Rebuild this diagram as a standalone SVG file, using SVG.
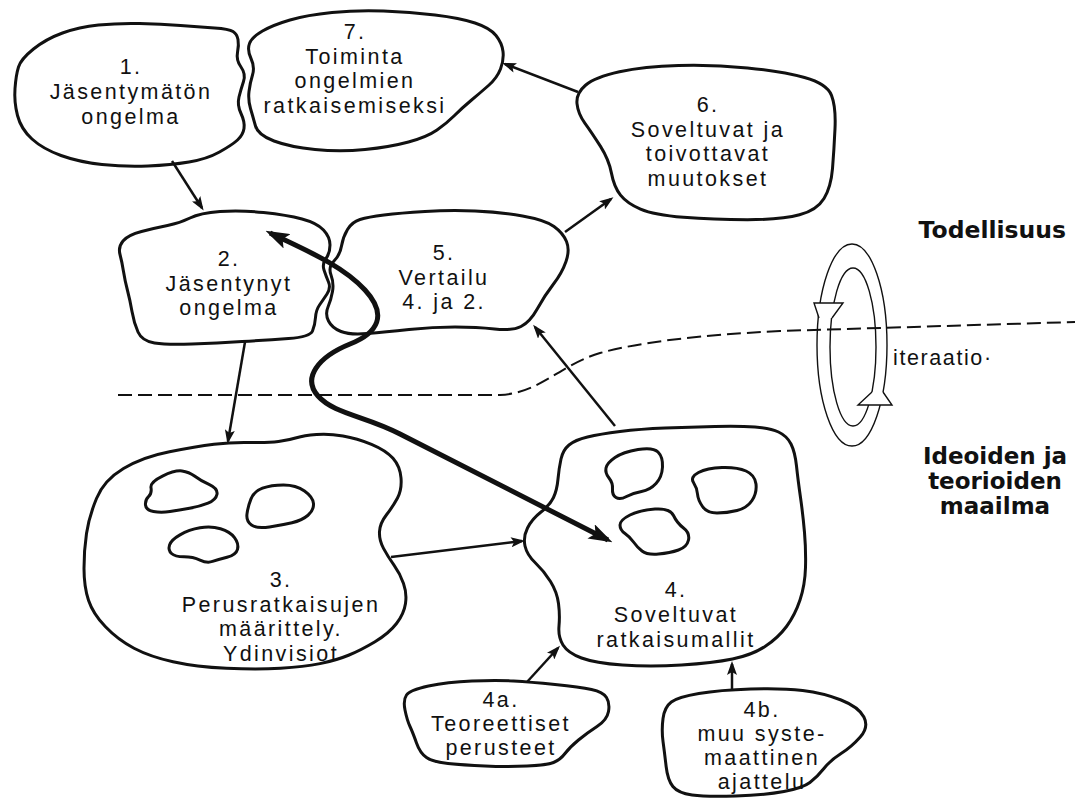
<svg xmlns="http://www.w3.org/2000/svg" width="1082" height="801" viewBox="0 0 1082 801">
<defs>
<style>
.blob{fill:none;stroke:#111;stroke-width:3;stroke-linejoin:round}
.inner{fill:none;stroke:#111;stroke-width:3;stroke-linejoin:round}
.t{font-family:'Liberation Sans',Arial,sans-serif;font-size:21.5px;letter-spacing:2.4px;text-anchor:middle;fill:#111}
.b{font-family:'DejaVu Sans','Liberation Sans',sans-serif;font-weight:bold;font-size:23px;text-anchor:middle;fill:#111}
.arr{fill:none;stroke:#111;stroke-width:2.5;marker-end:url(#ah)}
.thick{fill:none;stroke:#111;stroke-width:5;marker-start:url(#ahT);marker-end:url(#ahT)}
.ring{fill:none;stroke:#111;stroke-width:1.4}
.dash{fill:none;stroke:#111;stroke-width:2;stroke-dasharray:14 6}
</style>
<marker id="ah" markerUnits="userSpaceOnUse" markerWidth="14" markerHeight="10" refX="11" refY="5" orient="auto">
<path d="M0,0 L14,5 L0,10 L3,5 z" fill="#111"/>
</marker>
<marker id="ahT" markerUnits="userSpaceOnUse" markerWidth="24" markerHeight="16" refX="19" refY="8" orient="auto-start-reverse">
<path d="M0,0 L24,8 L0,16 L5,8 z" fill="#111"/>
</marker>
</defs>
<rect width="1082" height="801" fill="#fff"/>

<g id="divider">
<path class="dash" d="M 118,395 L 500,395 C 540,393 560,365 600,353 C 640,342 700,335 780,331 L 1075,322"/>
</g>

<g id="n1">
<path class="blob" transform="translate(0,2)" d="M 33.5,47 Q 46,37 62.5,31 Q 79,25 98.5,23 Q 118,21 139.5,21.5 Q 161,22 180.5,23.5 Q 200,25 214.5,26 Q 229,27 233,29.5 Q 237,32 238,37.5 Q 239,43 237.5,50.5 Q 236,58 241,65 Q 246,72 243.5,79.5 Q 241,87 239,95 Q 237,103 241,111.5 Q 245,120 244,126.5 Q 243,133 237.5,138 Q 232,143 219.5,150 Q 207,157 189,160 Q 171,163 148,164 Q 125,165 102,162.5 Q 79,160 61,153.5 Q 43,147 32,137 Q 21,127 17.5,113.5 Q 14,100 15,86.5 Q 16,73 18.5,65 Q 21,57 33.5,47 Z"/>
<text class="t"><tspan x="131" y="74">1.</tspan><tspan x="131" y="99">Jäsentymätön</tspan><tspan x="131" y="124">ongelma</tspan></text>
</g>

<g id="n7">
<path class="blob" d="M 249.5,43.5 Q 247,50 251,58.5 Q 255,67 252.5,75 Q 250,83 249,91.5 Q 248,100 250.5,108.5 Q 253,117 255.5,126 Q 258,135 274,141 Q 290,147 315,149.5 Q 340,152 365,149.5 Q 390,147 408.5,142 Q 427,137 437,130 Q 447,123 454.5,115.5 Q 462,108 471,100.5 Q 480,93 488.5,85.5 Q 497,78 500.5,69 Q 504,60 503,51.5 Q 502,43 496,35.5 Q 490,28 475,23 Q 460,18 435,15 Q 410,12 383.5,11 Q 357,10 332,12.5 Q 307,15 290,20 Q 273,25 262.5,31 Q 252,37 249.5,43.5 Z"/>
<text class="t"><tspan x="355" y="39">7.</tspan><tspan x="355" y="63.5">Toiminta</tspan><tspan x="355" y="88">ongelmien</tspan><tspan x="355" y="112.5">ratkaisemiseksi</tspan></text>
</g>

<g id="n6">
<path class="blob" vector-effect="non-scaling-stroke" transform="scale(1,0.9633)" d="M 585.5,88.5 Q 595,80 619.5,74.5 Q 644,69 678.5,68 Q 713,67 747.5,70.5 Q 782,74 804.5,80.5 Q 827,87 831.5,99 Q 836,111 835,133.5 Q 834,156 832.5,175 Q 831,194 824,206 Q 817,218 799.5,223 Q 782,228 747.5,228 Q 713,228 683.5,225.5 Q 654,223 640.5,217 Q 627,211 620.5,202.5 Q 614,194 611.5,180 Q 609,166 600.5,152 Q 592,138 585,128 Q 578,118 577,107.5 Q 576,97 585.5,88.5 Z"/>
<text class="t"><tspan x="708" y="112">6.</tspan><tspan x="708" y="136.5">Soveltuvat ja</tspan><tspan x="708" y="161">toivottavat</tspan><tspan x="708" y="185.5">muutokset</tspan></text>
</g>

<g id="n2">
<path class="blob" d="M 190,218 Q 200,213 220,211.5 Q 240,210 263.5,212.5 Q 287,215 302,219 Q 317,223 323.5,230 Q 330,237 330,245 Q 330,253 326,258.5 Q 322,264 324,270 Q 326,276 328.5,282 Q 331,288 327,294 Q 323,300 319.5,305 Q 316,310 315.5,317.5 Q 315,325 312.5,331 Q 310,337 288.5,338.5 Q 267,340 242,341.5 Q 217,343 192,344 Q 167,345 154.5,343 Q 142,341 138,332 Q 134,323 132,311.5 Q 130,300 127.5,290.5 Q 125,281 123.5,271.5 Q 122,262 120,254.5 Q 118,247 123,241 Q 128,235 141.5,231.5 Q 155,228 167.5,225.5 Q 180,223 190,218 Z"/>
<text class="t"><tspan x="229" y="266">2.</tspan><tspan x="229" y="290.5">Jäsentynyt</tspan><tspan x="229" y="315">ongelma</tspan></text>
</g>

<g id="n5">
<path class="blob" d="M 347.5,229.5 Q 343,237 341.5,246 Q 340,255 334,261 Q 328,267 331,275 Q 334,283 332.5,291.5 Q 331,300 328,307 Q 325,314 328.5,321 Q 332,328 341,331.5 Q 350,335 367.5,333.5 Q 385,332 409,329.5 Q 433,327 455,327 Q 477,327 494.5,329 Q 512,331 521,326.5 Q 530,322 537.5,308.5 Q 545,295 553.5,284 Q 562,273 566,261.5 Q 570,250 566.5,241.5 Q 563,233 554,226.5 Q 545,220 522.5,216 Q 500,212 475,211 Q 450,210 425,211.5 Q 400,213 384,215 Q 368,217 360,219.5 Q 352,222 347.5,229.5 Z"/>
<text class="t"><tspan x="444" y="260">5.</tspan><tspan x="444" y="284.5">Vertailu</tspan><tspan x="444" y="309">4. ja 2.</tspan></text>
</g>

<g id="n3">
<g transform="translate(0,26.67) scale(1,0.9333)">
<path class="blob" vector-effect="non-scaling-stroke" d="M 123.5,473.5 Q 143,461 169.5,455.5 Q 196,450 214,447.5 Q 232,445 250,445.5 Q 268,446 278.5,444.5 Q 289,443 296.5,440.5 Q 304,438 316.5,437 Q 329,436 343,438.5 Q 357,441 371.5,447.5 Q 386,454 393,462.5 Q 400,471 401,483.5 Q 402,496 397.5,505 Q 393,514 386.5,523 Q 380,532 379.5,541 Q 379,550 383.5,559 Q 388,568 394,577 Q 400,586 403.5,596.5 Q 407,607 405.5,618 Q 404,629 396.5,639.5 Q 389,650 375,659 Q 361,668 348.5,673.5 Q 336,679 320,682.5 Q 304,686 280.5,687.5 Q 257,689 226.5,687.5 Q 196,686 173,680.5 Q 150,675 134,666 Q 118,657 105.5,643 Q 93,629 88.5,614.5 Q 84,600 84,580.5 Q 84,561 86.5,543 Q 89,525 96.5,505.5 Q 104,486 123.5,473.5 Z"/>
<path class="inner" vector-effect="non-scaling-stroke" d="M 162.5,481.5 Q 175,475 182,476 Q 189,477 194.5,481.5 Q 200,486 209,490.5 Q 218,495 217,501 Q 216,507 208,510.5 Q 200,514 189.5,516 Q 179,518 170,519.5 Q 161,521 153.5,519.5 Q 146,518 145.5,512.5 Q 145,507 148.5,503.5 Q 152,500 151,494 Q 150,488 162.5,481.5 Z"/>
<path class="inner" vector-effect="non-scaling-stroke" d="M 262.5,494.5 Q 271,491 283.5,491 Q 296,491 304.5,497.5 Q 313,504 313.5,511 Q 314,518 308,523.5 Q 302,529 292,531.5 Q 282,534 269.5,536 Q 257,538 251.5,534 Q 246,530 247,522 Q 248,514 251,506 Q 254,498 262.5,494.5 Z"/>
<path class="inner" vector-effect="non-scaling-stroke" d="M 180,544.5 Q 189,539 200,537 Q 211,535 220.5,538 Q 230,541 234.5,547.5 Q 239,554 237.5,560 Q 236,566 227,568.5 Q 218,571 212.5,573 Q 207,575 200,571.5 Q 193,568 184,568 Q 175,568 171.5,564.5 Q 168,561 169.5,555.5 Q 171,550 180,544.5 Z"/>
</g>
<text class="t"><tspan x="281" y="587">3.</tspan><tspan x="281" y="611.5">Perusratkaisujen</tspan><tspan x="281" y="636">määrittely.</tspan><tspan x="281" y="660.5">Ydinvisiot</tspan></text>
</g>

<g id="n4">
<path class="blob" d="M 569,445 Q 575,440 587.5,437 Q 600,434 620,431.5 Q 640,429 665,428 Q 690,427 715,426.5 Q 740,426 755,427 Q 770,428 778.5,432 Q 787,436 791,444 Q 795,452 796.5,466 Q 798,480 800.5,497.5 Q 803,515 804.5,532.5 Q 806,550 805.5,567.5 Q 805,585 800,600 Q 795,615 786.5,626.5 Q 778,638 765,646.5 Q 752,655 732.5,659 Q 713,663 681.5,665 Q 650,667 622.5,665 Q 595,663 581.5,658 Q 568,653 563,645 Q 558,637 559,626 Q 560,615 558.5,603.5 Q 557,592 550.5,581.5 Q 544,571 535.5,563 Q 527,555 525,546 Q 523,537 527.5,528 Q 532,519 541,512 Q 550,505 553.5,497.5 Q 557,490 558,479 Q 559,468 561,459 Q 563,450 569,445 Z"/>
<path class="inner" d="M 615,457.5 Q 623,452 638,449.5 Q 653,447 658,452 Q 663,457 662.5,467 Q 662,477 656,483.5 Q 650,490 641.5,491.5 Q 633,493 626.5,496.5 Q 620,500 616,497.5 Q 612,495 612.5,489 Q 613,483 609,478 Q 605,473 606,468 Q 607,463 615,457.5 Z"/>
<path class="inner" d="M 698.5,472.5 Q 707,468 722,467.5 Q 737,467 746,471 Q 755,475 756,484 Q 757,493 752,500.5 Q 747,508 737,510.5 Q 727,513 717,513 Q 707,513 702.5,506.5 Q 698,500 697.5,494 Q 697,488 693.5,482.5 Q 690,477 698.5,472.5 Z"/>
<path class="inner" d="M 630,515 Q 640,510 655,509 Q 670,508 673.5,515.5 Q 677,523 683.5,528 Q 690,533 688.5,540 Q 687,547 678.5,550 Q 670,553 658.5,554 Q 647,555 642,551 Q 637,547 633.5,542 Q 630,537 625,533.5 Q 620,530 620,525 Q 620,520 630,515 Z"/>
<text class="t"><tspan x="676" y="597">4.</tspan><tspan x="676" y="622">Soveltuvat</tspan><tspan x="676" y="647">ratkaisumallit</tspan></text>
</g>

<g id="n4a">
<path class="blob" d="M 406.5,695 Q 410,690 428.5,686 Q 447,682 472,681 Q 497,680 513.5,681 Q 530,682 555,684.5 Q 580,687 591.5,689.5 Q 603,692 606.5,697.5 Q 610,703 608.5,711.5 Q 607,720 597,726.5 Q 587,733 578.5,740 Q 570,747 565,753.5 Q 560,760 553.5,762.5 Q 547,765 527,766 Q 507,767 485,766 Q 463,765 448,763.5 Q 433,762 426.5,757.5 Q 420,753 416.5,743 Q 413,733 410,726.5 Q 407,720 405,710 Q 403,700 406.5,695 Z"/>
<text class="t"><tspan x="501" y="707">4a.</tspan><tspan x="501" y="731">Teoreettiset</tspan><tspan x="501" y="755">perusteet</tspan></text>
</g>

<g id="n4b">
<path class="blob" vector-effect="non-scaling-stroke" transform="translate(-20.5,0) scale(1.038,1)" d="M 666.5,702 Q 673,697 693,693.5 Q 713,690 743,689 Q 773,688 793,690.5 Q 813,693 830,700 Q 847,707 852,717 Q 857,727 848.5,737 Q 840,747 830,753.5 Q 820,760 813.5,768.5 Q 807,777 800,782.5 Q 793,788 775,791.5 Q 757,795 728.5,796 Q 700,797 686.5,795 Q 673,793 668,786.5 Q 663,780 661.5,766.5 Q 660,753 658.5,741.5 Q 657,730 658.5,718.5 Q 660,707 666.5,702 Z"/>
<text class="t"><tspan x="762" y="717">4b.</tspan><tspan x="762" y="741">muu syste-</tspan><tspan x="762" y="765">maattinen</tspan><tspan x="762" y="789">ajattelu</tspan></text>
</g>

<g id="connectors">
<path class="arr" d="M 172,161 L 202,208"/>
<path class="arr" d="M 578,92 L 505,64"/>
<path class="arr" d="M 565,232 L 611,199"/>
<path class="arr" d="M 245,342 L 228,441"/>
<path class="arr" d="M 391,557 L 522,541"/>
<path class="arr" d="M 615,426 L 535,327"/>
<path class="arr" d="M 527,682 L 558,648"/>
<path class="arr" d="M 732,690 L 732,664"/>
<path class="thick" d="M 270,233 C 305,250 342,265 365,290 C 388,315 378,333 350,344 C 318,357 302,378 318,396 C 334,414 366,416 400,434 L 608,540"/>
</g>

<g id="iteration">
<ellipse class="ring" cx="852" cy="345" rx="35" ry="101"/>
<ellipse class="ring" cx="853" cy="347" rx="23" ry="79"/>
<path class="ring" style="fill:#fff" d="M 819,318 L 814,303 L 843,303 L 832,318"/>
<path class="ring" style="fill:#fff" d="M 872,392 L 858,405 L 892,405 L 883,392"/>
<text class="t" x="893" y="365" style="text-anchor:start;letter-spacing:1.6px">iteraatio·</text>
</g>

<g id="realms">
<text class="b" x="1066" y="238" style="text-anchor:end;font-size:23.5px">Todellisuus</text>
<text class="b"><tspan x="995" y="464">Ideoiden ja</tspan><tspan x="995" y="489">teorioiden</tspan><tspan x="995" y="514">maailma</tspan></text>
</g>
</svg>
